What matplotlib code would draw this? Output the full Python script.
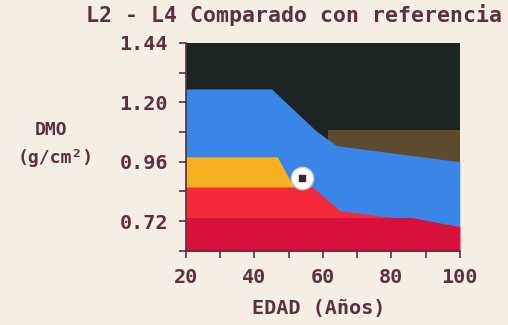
import numpy as np
import matplotlib
matplotlib.use('Agg')
import matplotlib.pyplot as plt

# Band boundaries (age in years, BMD in g/cm2)
blue_age = [20, 45, 58, 64, 100]
blue_top = [1.254, 1.254, 1.085, 1.025, 0.960]

brown_age = [61.5, 100]
brown_top = [1.089, 1.089]

orange_age = [20, 46.7, 51.5]
orange_top = [0.980, 0.980, 0.858]

red_age = [20, 57, 65, 100]
red_top = [0.858, 0.858, 0.762, 0.700]

crimson_age = [20, 86, 100]
crimson_top = [0.735, 0.735, 0.697]

patient_age = 54
patient_bmd = 0.893

yticks = [0.72, 0.96, 1.20, 1.44]
ytick_labels = ['0.72', '0.96', '1.20', '1.44']
xticks = [20, 40, 60, 80, 100]

bg = '#f4eee4'
ink = '#5a3042'
font = 'DejaVu Sans Mono'

fig = plt.figure(figsize=(5.08, 3.25), dpi=100, facecolor=bg)
ax = fig.add_axes([0.366, 0.228, 0.539, 0.640])
ax.set_facecolor('#1e2422')
ymin = 0.60

ax.fill_between(brown_age, ymin, brown_top, color='#5e4c2e', lw=0)
ax.fill_between(blue_age, ymin, blue_top, color='#3a86e8', lw=0)
ax.fill_between(orange_age, ymin, orange_top, color='#f7b020', lw=0)
ax.fill_between(red_age, ymin, red_top, color='#f42a3a', lw=0)
ax.fill_between(crimson_age, ymin, crimson_top, color='#d8103c', lw=0)

ax.plot(patient_age, patient_bmd, 'o', ms=16, mfc='white', mec='#cccccc', mew=1, zorder=5)
ax.plot(patient_age, patient_bmd, 's', ms=5, mfc='#3a2030', mec='#3a2030', zorder=6)

ax.set_xlim(20, 100)
ax.set_ylim(ymin, 1.44)
ax.set_xticks(xticks)
ax.set_xticks(range(30, 100, 20), minor=True)
ax.set_yticks(yticks)
ax.set_yticklabels(ytick_labels)
ax.set_yticks([0.60, 0.84, 1.08, 1.32], minor=True)
for s in ['top', 'right']:
    ax.spines[s].set_visible(False)
for s in ['left', 'bottom']:
    ax.spines[s].set_color(ink)
    ax.spines[s].set_linewidth(1.2)
ax.tick_params(which='both', direction='out', length=5, width=1.2, color=ink)
ax.tick_params(axis='y', labelsize=14.5, labelcolor=ink, pad=8)
ax.tick_params(axis='x', labelsize=14.5, labelcolor=ink, pad=7)
for lab in ax.get_xticklabels() + ax.get_yticklabels():
    lab.set_family(font)
    lab.set_weight('bold')

fig.text(0.578, 0.953, 'L2 - L4 Comparado con referencia', ha='center', va='center',
         fontsize=15.5, family=font, weight='bold', color=ink)
fig.text(0.628, 0.052, 'EDAD (Años)', ha='center', va='center',
         fontsize=14.5, family=font, weight='bold', color=ink)
fig.text(0.10, 0.60, 'DMO', ha='center', va='center',
         fontsize=13, family=font, weight='bold', color=ink)
fig.text(0.110, 0.513, '(g/cm²)', ha='center', va='center',
         fontsize=13, family=font, weight='bold', color=ink)

fig.savefig('out.png', dpi=100, facecolor=bg)
